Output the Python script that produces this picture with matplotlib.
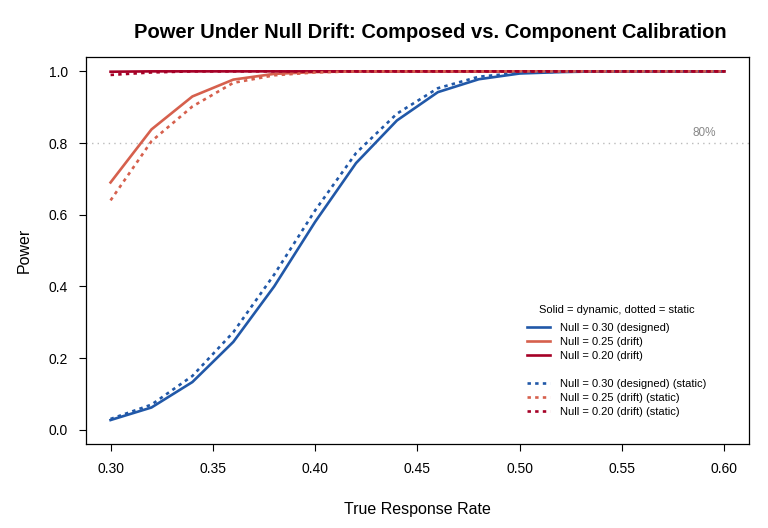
"""
Power under null drift: dynamic (solid) vs static (dotted) calibration.
Values read off the reference figure.
"""
import numpy as np
import matplotlib
matplotlib.use('Agg')
import matplotlib.pyplot as plt
from matplotlib.lines import Line2D

plt.rcParams['font.family'] = ['Liberation Sans', 'DejaVu Sans']

# ── data ──────────────────────────────────────────────────────────────────
rate = [0.30, 0.32, 0.34, 0.36, 0.38, 0.40, 0.42, 0.44,
        0.46, 0.48, 0.50, 0.52, 0.54, 0.56, 0.58, 0.60]

# dynamic (solid)
p30_dyn = [0.027, 0.062, 0.133, 0.245, 0.400, 0.580, 0.744, 0.863,
           0.942, 0.978, 0.994, 0.998, 1.000, 1.000, 1.000, 1.000]
p25_dyn = [0.690, 0.838, 0.930, 0.977, 0.993, 0.998, 1.000, 1.000,
           1.000, 1.000, 1.000, 1.000, 1.000, 1.000, 1.000, 1.000]
p20_dyn = [0.999, 1.000, 1.000, 1.000, 1.000, 1.000, 1.000, 1.000,
           1.000, 1.000, 1.000, 1.000, 1.000, 1.000, 1.000, 1.000]

# static (dotted)
p30_sta = [0.030, 0.070, 0.150, 0.272, 0.433, 0.612, 0.772, 0.882,
           0.953, 0.985, 0.996, 0.999, 1.000, 1.000, 1.000, 1.000]
p25_sta = [0.640, 0.805, 0.902, 0.968, 0.989, 0.997, 1.000, 1.000,
           1.000, 1.000, 1.000, 1.000, 1.000, 1.000, 1.000, 1.000]
p20_sta = [0.990, 0.997, 1.000, 1.000, 1.000, 1.000, 1.000, 1.000,
           1.000, 1.000, 1.000, 1.000, 1.000, 1.000, 1.000, 1.000]

labels = ['Null = 0.30 (designed)', 'Null = 0.25 (drift)', 'Null = 0.20 (drift)']
colors = ['#2158A8', '#D6604D', '#A50026']

x_ticks = [0.30, 0.35, 0.40, 0.45, 0.50, 0.55, 0.60]
y_ticks = [0.0, 0.2, 0.4, 0.6, 0.8, 1.0]

# ── plot ──────────────────────────────────────────────────────────────────
fig = plt.figure(figsize=(7.68, 5.28), dpi=100)
ax = fig.add_axes([0.112, 0.159, 0.863, 0.733])

DOT = (0, (1.3, 1.6))
LW = 1.9

ax.axhline(0.8, color='#BBBBBB', lw=1.0, ls=(0, (1, 3)), zorder=1)
ax.text(0.596, 0.812, '80%', color='#888888', fontsize=8.5,
        ha='right', va='bottom')

dyn = [p30_dyn, p25_dyn, p20_dyn]
sta = [p30_sta, p25_sta, p20_sta]
for ys, c in zip(dyn, colors):
    ax.plot(rate, ys, color=c, lw=LW, solid_joinstyle='miter', zorder=3)
for ys, c in zip(sta, colors):
    ax.plot(rate, ys, color=c, lw=LW, ls=DOT, zorder=3)

ax.set_xlim(0.288, 0.612)
ax.set_ylim(-0.04, 1.04)
ax.set_xticks(x_ticks)
ax.set_xticklabels([f'{v:.2f}' for v in x_ticks])
ax.set_yticks(y_ticks)
ax.set_yticklabels([f'{v:.1f}' for v in y_ticks])
ax.tick_params(direction='out', length=5, width=0.8, labelsize=10, pad=8)
for s in ax.spines.values():
    s.set_linewidth(0.9)

ax.set_xlabel('True Response Rate', fontsize=11.5, labelpad=19)
ax.set_ylabel('Power', fontsize=11.5, labelpad=12)
ax.set_title('Power Under Null Drift: Composed vs. Component Calibration',
             fontsize=14.5, fontweight='bold', pad=14, x=0.52)

handles = [Line2D([], [], color=c, lw=LW) for c in colors]
handles.append(Line2D([], [], color='none'))
handles += [Line2D([], [], color=c, lw=LW, ls=DOT) for c in colors]
leg_labels = labels + [''] + [l + ' (static)' for l in labels]
leg = ax.legend(handles, leg_labels, title='Solid = dynamic, dotted = static',
                title_fontsize=8, fontsize=8, frameon=False,
                loc='lower left', bbox_to_anchor=(0.651, 0.044),
                handlelength=2.0, handletextpad=0.9, labelspacing=0.36)
leg._legend_box.sep = 6

plt.savefig('out.png', dpi=100)
